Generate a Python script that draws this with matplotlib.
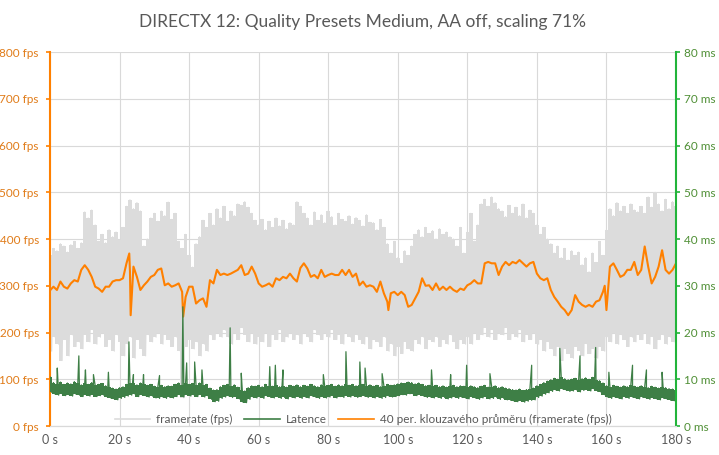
import matplotlib
matplotlib.use('Agg')
import matplotlib.pyplot as plt
from matplotlib.lines import Line2D
import numpy as np

plt.rcParams['font.family'] = ['Lato', 'DejaVu Sans']

# per-second upper / lower edge of the raw framerate trace (fps), t = 0..180 s
fps_hi = [365, 380, 375, 390, 385, 372, 388, 395, 380, 392,
          458, 445, 462, 430,
          395, 410, 392, 420, 405, 415, 398, 425,
          470, 484, 465, 478, 460,
          385, 400,
          445, 455, 438, 460, 450, 479, 442, 455,
          395, 380, 410, 365, 340, 390, 405,
          440, 425, 455, 430, 465, 445, 470, 438, 460, 450, 475,
          472, 480, 468, 455, 440,
          430, 442, 420, 438, 425, 445, 428, 440, 422, 435, 430,
          480, 470, 455,
          445, 430, 458, 440, 452, 435, 460, 448, 430, 455, 442, 438, 450, 432, 446, 440, 428, 452, 436,
          435, 420, 442, 425,
          390, 370, 395, 360, 348, 375, 365, 385,
          410, 420, 405, 425, 412, 418, 400, 422, 410, 415, 405,
          400, 385, 425, 370, 415, 455, 395, 430,
          475, 485, 470, 490, 478, 465,
          460, 448, 472, 455, 468, 450, 475, 445, 462, 455,
          430, 410, 425, 400,
          390, 370, 385, 360, 380, 355, 375, 365, 372,
          345, 360, 330, 370, 350, 395, 365, 420,
          465, 450, 478, 460, 470, 455, 475, 462, 458,
          470, 455, 490, 468, 500, 475, 460, 485, 465, 480, 470]
fps_lo = [160, 190, 175, 140, 185, 150, 195, 170, 180, 165,
          195, 180, 205, 175, 190, 200, 170, 185, 160, 195,
          180, 150, 175, 190, 145, 185, 165, 150, 195, 180,
          190, 200, 175, 195, 185, 170, 190, 160, 60, 170,
          185, 165, 180, 150, 175, 160, 195, 185, 200, 190,
          205, 190, 175, 200, 185, 210, 195, 180, 200, 175,
          190, 180, 200, 170, 195, 185, 205, 180, 190, 200,
          185, 195, 175, 200, 190, 180, 205, 195, 185, 200,
          190, 205, 185, 195, 175, 200, 190, 180, 195, 185,
          175, 190, 165, 185, 180, 170, 190, 160, 175, 150,
          170, 155, 180, 165, 160, 185, 175, 190, 165, 185,
          180, 190, 170, 185, 175, 195, 180, 165, 185, 175,
          190, 175, 200, 185, 195, 210, 190, 205, 185, 200,
          195, 210, 185, 200, 190, 205, 180, 195, 185, 200,
          175, 185, 160, 180, 165, 150, 170, 140, 165, 155,
          145, 170, 160, 150, 175, 155, 165, 145, 170, 160,
          190, 180, 200, 175, 195, 185, 170, 190, 180, 195,
          185, 200, 175, 190, 165, 185, 195, 175, 190, 180, 185]

# 40-frame moving average (fps), one value per second
ma_fps = [290, 298, 291, 309, 298, 294, 305, 312, 309, 334,
          344, 334, 319, 298, 294, 287, 298, 298, 309, 312,
          312, 316, 348, 330, 341, 319, 291, 301, 309, 319,
          323, 334, 337, 301, 305, 298, 301, 305, 287, 276,
          298, 298, 262, 269, 273, 255, 312, 305, 334, 323,
          326, 323, 326, 330, 334, 344, 323, 326, 341, 326,
          305, 298, 301, 305, 298, 316, 312, 319, 316, 326,
          316, 309, 338, 348, 337, 319, 323, 316, 334, 319,
          323, 326, 323, 323, 334, 323, 334, 319, 326, 301,
          309, 298, 301, 298, 287, 309, 284, 266, 284, 287,
          280, 287, 280, 255, 259, 273, 287, 316, 300, 301,
          291, 305, 291, 298, 291, 298, 291, 287, 294, 291,
          301, 305, 312, 305, 305, 348, 351, 348, 348, 323,
          341, 351, 344, 351, 348, 355, 348, 341, 348, 351,
          326, 316, 312, 316, 291, 276, 266, 255, 248, 237,
          248, 280, 266, 259, 255, 259, 255, 266, 269, 287,
          248, 341, 348, 334, 319, 323, 334, 334, 351, 323,
          334, 384, 341, 305, 319, 341, 376, 334, 326, 334, 348]
ma_dip_t = [22.8, 23.2, 38.3, 97.3, 159.5]
ma_dip_v = [369, 237, 234, 248, 300]

# latency band (ms), one value per second
lat_hi = [10.5, 9.3, 9.0, 9.4, 8.9, 9.2, 9.0, 9.5, 9.1, 8.8,
          9.2, 8.9, 9.3, 8.7, 8.9, 9.1, 8.6, 8.4, 8.1, 7.9,
          8.2, 8.4, 8.9, 9.1, 9.3, 8.8, 9.2, 9.0, 8.7, 8.9,
          8.5, 8.3, 8.7, 8.4, 8.6, 8.5, 8.9, 9.2, 8.8, 9.3,
          8.9, 9.1, 8.8, 9.2, 8.7, 8.9, 8.1, 7.7, 7.8, 8.4,
          8.7, 8.9, 8.6, 8.8, 8.3, 7.6, 7.5, 8.2, 8.6, 8.5,
          8.7, 8.4, 8.9, 8.6, 8.5, 8.8, 8.4, 8.6, 8.3, 8.7,
          8.5, 8.8, 8.4, 8.7, 8.5, 8.9, 8.6, 8.4, 8.8, 8.5,
          8.7, 8.9, 8.5, 8.8, 8.6, 9.0, 8.7, 8.9, 8.6, 8.8,
          8.9, 8.6, 8.8, 8.5, 8.7, 8.4, 8.6, 8.9, 8.7, 8.8,
          9.0, 9.2, 9.1, 9.4, 9.3, 9.0, 9.2, 8.9, 8.6, 8.7,
          8.5, 8.7, 8.4, 8.6, 8.3, 8.5, 8.7, 8.4, 8.6, 8.5,
          8.3, 8.6, 8.4, 8.2, 8.5, 8.7, 8.3, 8.4, 8.6, 8.2,
          8.4, 8.1, 8.0, 7.8, 7.7, 7.9, 7.6, 7.8, 8.0, 8.1,
          8.6, 8.9, 9.3, 9.6, 9.9, 10.2, 10.0, 10.4, 10.1, 9.9,
          10.0, 10.2, 9.8, 10.1, 10.3, 10.0, 10.4, 9.9, 9.7, 9.2,
          8.6, 8.4, 8.7, 8.5, 8.3, 8.6, 8.4, 8.7, 8.5, 8.3,
          8.6, 8.4, 8.2, 8.5, 8.3, 8.1, 8.4, 8.2, 8.0, 7.9, 7.8]
lat_lo = [7.2, 6.8, 6.6, 6.9, 6.5, 6.7, 6.4, 6.8, 6.6, 6.3,
          6.6, 6.4, 6.7, 6.3, 6.5, 6.6, 6.2, 6.0, 5.8, 5.6,
          5.9, 6.1, 6.4, 6.6, 6.8, 6.3, 6.7, 6.5, 6.2, 6.4,
          6.0, 5.9, 6.2, 5.9, 6.1, 6.0, 6.3, 6.6, 6.2, 6.7,
          6.4, 6.6, 6.3, 6.7, 6.2, 6.4, 5.7, 5.2, 5.3, 5.9,
          6.2, 6.4, 6.1, 6.3, 5.8, 5.1, 5.0, 5.7, 6.1, 6.0,
          6.2, 5.9, 6.4, 6.1, 6.0, 6.3, 5.9, 6.1, 5.8, 6.2,
          6.0, 6.3, 5.9, 6.2, 6.0, 6.4, 6.1, 5.9, 6.3, 6.0,
          6.2, 6.4, 6.0, 6.3, 6.1, 6.5, 6.2, 6.4, 6.1, 6.3,
          6.4, 6.1, 6.3, 6.0, 6.2, 5.9, 6.1, 6.4, 6.2, 6.3,
          6.5, 6.7, 6.6, 6.9, 6.8, 6.5, 6.7, 6.4, 6.1, 6.2,
          6.0, 6.2, 5.9, 6.1, 5.8, 6.0, 6.2, 5.9, 6.1, 6.0,
          5.8, 6.1, 5.9, 5.7, 6.0, 6.2, 5.8, 5.9, 6.1, 5.7,
          5.9, 5.6, 5.5, 5.3, 5.2, 5.4, 5.1, 5.3, 5.5, 5.6,
          6.1, 6.4, 6.8, 7.1, 7.4, 7.7, 7.5, 7.9, 7.6, 7.4,
          7.5, 7.7, 7.3, 7.6, 7.8, 7.5, 7.9, 7.4, 7.2, 6.7,
          6.1, 5.9, 6.2, 6.0, 5.8, 6.1, 5.9, 6.2, 6.0, 5.8,
          6.1, 5.9, 5.7, 6.0, 5.8, 5.6, 5.9, 5.7, 5.5, 5.4, 5.3]
# single-frame latency spikes (s, ms)
spike_t = [2.1, 8.3, 10.2, 12.5, 16.8, 22.7, 24.0, 26.9, 31.5, 38.2, 39.3, 41.6,
           43.7, 51.8, 55.0, 63.2, 64.8, 67.0, 78.6, 85.1, 89.1, 90.6, 95.5, 109.7,
           115.2, 119.8, 126.5, 138.5, 146.6, 152.4, 156.9, 160.7, 167.5, 171.5, 176.0]
spike_ms = [12.4, 15.0, 12.0, 11.0, 11.5, 18.0, 11.0, 11.0, 10.8, 25.5, 13.5, 13.7,
            12.0, 21.0, 11.3, 12.7, 13.0, 12.0, 11.0, 15.9, 13.7, 12.4, 11.2, 12.0,
            11.0, 13.0, 11.2, 13.0, 16.6, 15.0, 16.8, 11.5, 13.0, 12.0, 11.5]

fps_ticks = [0, 100, 200, 300, 400, 500, 600, 700, 800]
ms_ticks = [0, 10, 20, 30, 40, 50, 60, 70, 80]
sec_ticks = [0, 20, 40, 60, 80, 100, 120, 140, 160, 180]

ORANGE = '#FF8000'
GREEN_LINE = '#3E7F46'
GREEN_AXIS = '#22B43A'
GREY = '#595959'
LIGHT = '#DCDCDC'

sec = np.arange(len(fps_hi))
zig_t = np.ravel(np.column_stack([sec, sec + 0.5]))
fr_v = np.ravel(np.column_stack([fps_hi, fps_lo]))

ma_t = np.concatenate([sec, ma_dip_t])
ma_v = np.concatenate([ma_fps, ma_dip_v])
o = np.argsort(ma_t)
ma_t, ma_v = ma_t[o], ma_v[o]

lat_t = np.concatenate([zig_t, spike_t])
lat_v = np.concatenate([np.ravel(np.column_stack([lat_hi, lat_lo])), spike_ms])
o = np.argsort(lat_t)
lat_t, lat_v = lat_t[o], lat_v[o]

fig, ax = plt.subplots(figsize=(7.19, 4.55), dpi=100)
fig.subplots_adjust(left=0.0695, right=0.9402, top=0.8857, bottom=0.0637)
ax2 = ax.twinx()

# raw framerate: band + trace
ax.fill_between(sec, fps_lo, fps_hi, step='mid', color=LIGHT, lw=0, zorder=2)
ax.plot(zig_t, fr_v, color=LIGHT, lw=0.8, zorder=2)
ax.plot(ma_t, ma_v, color=ORANGE, lw=1.5, zorder=3)

# latency on the right axis
ax2.fill_between(sec, lat_lo, lat_hi, step='mid', color=GREEN_LINE, lw=0)
ax2.plot(lat_t, lat_v, color=GREEN_LINE, lw=0.9)

ax.set_xlim(0, 180)
ax.set_ylim(0, 800)
ax2.set_ylim(0, 80)
ax.set_xticks(sec_ticks)
ax.set_xticklabels([f'{s} s' for s in sec_ticks])
ax.set_yticks(fps_ticks)
ax.set_yticklabels([f'{v} fps' for v in fps_ticks])
ax2.set_yticks(ms_ticks)
ax2.set_yticklabels([f'{v} ms' for v in ms_ticks])

ax.grid(color='#D9D9D9', lw=0.8)
ax.set_axisbelow(True)
for a in (ax, ax2):
    a.spines['top'].set_visible(False)
    a.spines['bottom'].set_color('#D9D9D9')
ax.spines['right'].set_visible(False)
ax2.spines['left'].set_visible(False)
ax.spines['left'].set_color(ORANGE)
ax.spines['left'].set_linewidth(1.5)
ax2.spines['right'].set_color(GREEN_AXIS)
ax2.spines['right'].set_linewidth(1.5)

ax.tick_params(axis='x', length=0, colors=GREY, labelsize=9, pad=6)
ax.tick_params(axis='y', length=3, width=1.2, color=ORANGE, labelcolor='#E07B18', labelsize=8.5, pad=5)
ax2.tick_params(axis='y', length=3, width=1.2, color=GREEN_AXIS, labelcolor='#4F8F35', labelsize=8.5, pad=3)

ax.set_title('DIRECTX 12: Quality Presets Medium, AA off, scaling 71%',
             color=GREY, fontsize=12.5, pad=18)

handles = [Line2D([], [], color=LIGHT, lw=1.2),
           Line2D([], [], color=GREEN_LINE, lw=1.2),
           Line2D([], [], color=ORANGE, lw=1.2)]
labels = ['framerate (fps)', 'Latence', '40 per. klouzavého průměru (framerate (fps))']
ax2.legend(handles, labels, loc='lower center', bbox_to_anchor=(0.5, -0.025),
           ncol=3, frameon=False, fontsize=8.5, labelcolor=GREY,
           handlelength=3.0, handletextpad=0.5, columnspacing=1.0)

fig.savefig('out.png', dpi=100)
plt.close(fig)
